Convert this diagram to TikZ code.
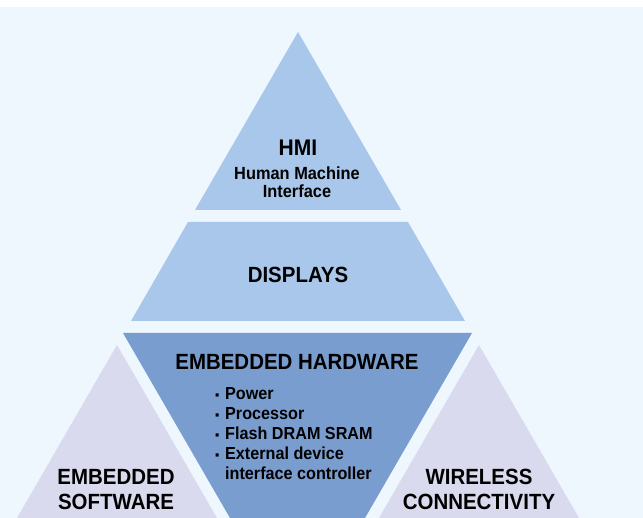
\documentclass[tikz,border=0pt]{standalone}
\usepackage{fontspec}
\setmainfont{Liberation Sans}[FakeStretch=0.93]
\usepackage{tikz}
\usetikzlibrary{positioning}
\definecolor{bgBlue}{RGB}{238,246,254}
\definecolor{tierLight}{RGB}{169,199,234}
\definecolor{tierCore}{RGB}{122,157,208}
\definecolor{tierSide}{RGB}{218,218,238}
\newcommand{\hwitem}{\makebox[10pt][l]{\fontsize{13}{13}\selectfont▪}}

\begin{document}
\begin{tikzpicture}[x=1pt, y=-1pt,
    tier/.style={font=\fontsize{22}{25}\selectfont\bfseries, align=center, inner sep=0pt},
    detail/.style={font=\fontsize{17.4}{20}\selectfont\bfseries, inner sep=0pt}
]
    \useasboundingbox (0,0) rectangle (643,518);
    \fill[bgBlue] (0,7) rectangle (643,518);

    % pyramid pieces
    \fill[tierLight] (298,32) -- (401,210) -- (195,210) -- cycle;
    \fill[tierLight] (188,222) -- (408,222) -- (465,321) -- (131,321) -- cycle;
    \fill[tierCore] (123,333) -- (472,333) -- (365,518) -- (230,518) -- cycle;
    \fill[tierSide] (117,345) -- (217,518) -- (17,518) -- cycle;
    \fill[tierSide] (479,345) -- (579,518) -- (379,518) -- cycle;

    \node[tier, font=\fontsize{22.6}{25}\selectfont\bfseries] (hmi) at (298,148) {HMI};
    \node[detail, align=center, font=\fontsize{17.6}{18.5}\selectfont\bfseries] (hmiText) at (297,182) {Human Machine\\Interface};
    \node[tier] (displays) at (298,275) {DISPLAYS};
    \node[tier] (hardware) at (297,362) {EMBEDDED HARDWARE};
    \node[detail, align=left, anchor=west] (hwList) at (215,434) {%
        \hwitem Power\\
        \hwitem Processor\\
        \hwitem Flash DRAM SRAM\\
        \hwitem External device\\
        \makebox[10pt][l]{}interface controller};
    \node[tier] (software) at (116,490) {EMBEDDED\\SOFTWARE};
    \node[tier] (wireless) at (479,489) {WIRELESS\\CONNECTIVITY};
\end{tikzpicture}
\end{document}
